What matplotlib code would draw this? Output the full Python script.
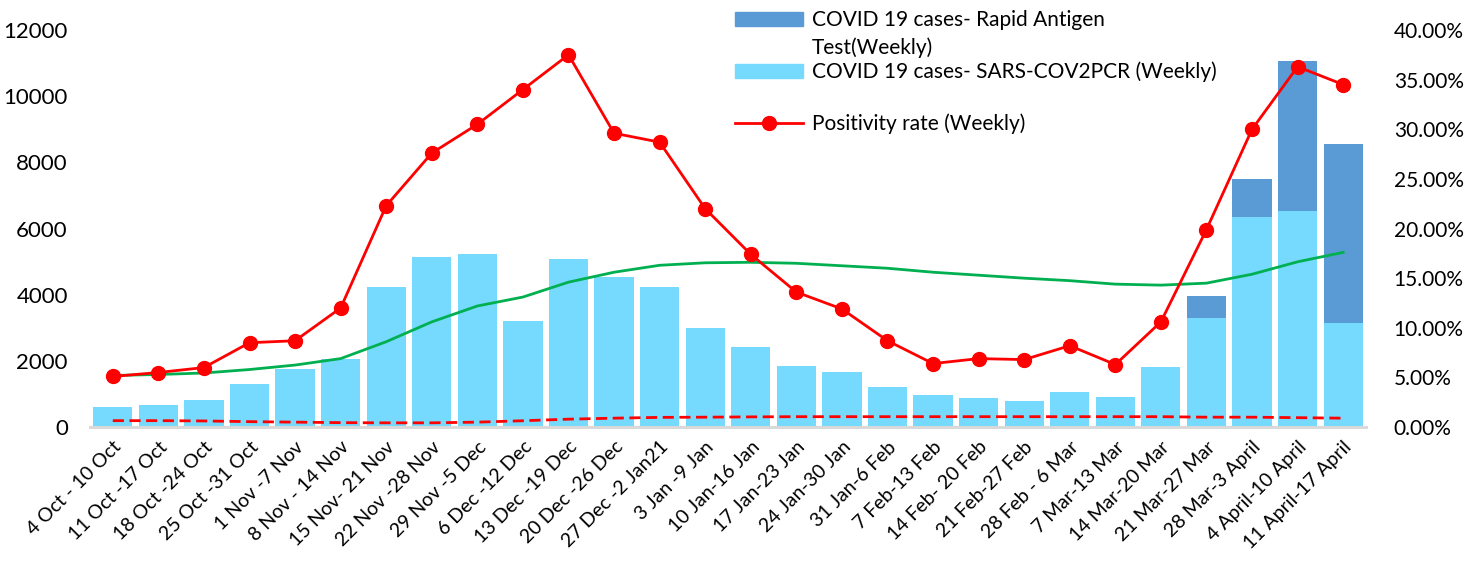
import matplotlib.pyplot as plt
from matplotlib.lines import Line2D
from matplotlib.patches import Patch
from matplotlib.ticker import FuncFormatter

weeks = ["4 Oct - 10 Oct", "11 Oct -17 Oct", "18 Oct -24 Oct", "25 Oct -31 Oct",
         "1 Nov -7 Nov", "8 Nov - 14 Nov", "15 Nov- 21 Nov", "22 Nov -28 Nov",
         "29 Nov -5 Dec", "6 Dec -12 Dec", "13 Dec -19 Dec", "20 Dec -26 Dec",
         "27 Dec -2 Jan21", "3 Jan -9 Jan", "10 Jan-16 Jan", "17 Jan-23 Jan",
         "24 Jan-30 Jan", "31 Jan-6 Feb", "7 Feb-13 Feb", "14 Feb- 20 Feb",
         "21 Feb-27 Feb", "28 Feb - 6 Mar", "7 Mar-13 Mar", "14 Mar-20 Mar",
         "21 Mar-27 Mar", "28 Mar-3 April", "4 April-10 April", "11 April-17 April"]

pcr_cases = [620, 665, 815, 1290, 1755, 2055, 4230, 5140, 5220, 3215, 5080, 4535,
             4240, 2985, 2430, 1845, 1675, 1220, 970, 890, 790, 1050, 920, 1825,
             3285, 6340, 6540, 3155]
antigen_cases = [0, 0, 0, 0, 0, 0, 0, 0, 0, 0, 0, 0, 0, 0, 0, 0, 0, 0, 0, 0, 0, 0,
                 0, 0, 675, 1160, 4535, 5400]

positivity = [5.1, 5.5, 6.0, 8.5, 8.7, 12.0, 22.3, 27.6, 30.5, 34.0, 37.5, 29.6,
              28.7, 22.0, 17.4, 13.6, 11.9, 8.7, 6.4, 6.9, 6.8, 8.2, 6.3, 10.6,
              19.9, 30.0, 36.3, 34.5]
trend = [5.2, 5.3, 5.45, 5.8, 6.25, 6.9, 8.6, 10.6, 12.2, 13.1, 14.6, 15.6,
         16.3, 16.55, 16.6, 16.5, 16.25, 16.0, 15.6, 15.3, 15.0, 14.75, 14.4, 14.3,
         14.5, 15.4, 16.65, 17.6]
baseline = [0.65, 0.65, 0.62, 0.55, 0.5, 0.45, 0.43, 0.43, 0.5, 0.64, 0.8, 0.9,
            0.98, 1.0, 1.03, 1.05, 1.05, 1.05, 1.05, 1.05, 1.05, 1.05, 1.05, 1.05,
            1.0, 1.0, 0.95, 0.9]

light_blue = "#76D9FE"
dark_blue = "#5B9BD5"
red = "#FF0000"
green = "#00B050"

plt.rcParams['font.family'] = ['Lato', 'DejaVu Sans']

W, H = 1478, 571
fig = plt.figure(figsize=(W / 100, H / 100), dpi=100)
ax = fig.add_axes([0.0609, 0.252, 0.8633, 0.6955])
ax2 = ax.twinx()

x = list(range(len(weeks)))
ax.bar(x, pcr_cases, width=0.86, color=light_blue, zorder=2)
ax.bar(x, antigen_cases, width=0.86, bottom=pcr_cases, color=dark_blue, zorder=2)

ax2.plot(x, baseline, color=red, lw=2, linestyle=(0, (4, 2)), zorder=3)
ax2.plot(x, trend, color=green, lw=2, zorder=3)
ax2.plot(x, positivity, color=red, lw=2, marker='o', markersize=10, zorder=4)

ax.set_xlim(-0.5, len(weeks) - 0.5)
ax.set_ylim(0, 12000)
ax.set_yticks(range(0, 12001, 2000))
ax2.set_ylim(0, 40)
ax2.set_yticks(range(0, 41, 5))
ax2.yaxis.set_major_formatter(FuncFormatter(lambda v, p: f"{v:.2f}%"))

ax.set_xticks(x)
ax.set_xticklabels(weeks, rotation=45, ha='right', rotation_mode='anchor', fontsize=14)
ax.tick_params(axis='x', length=0, pad=8)
ax.tick_params(axis='y', length=0, pad=16, labelsize=16)
ax2.tick_params(axis='y', length=0, pad=20, labelsize=15)

for a in (ax, ax2):
    for side in ('top', 'left', 'right'):
        a.spines[side].set_visible(False)
    a.spines['bottom'].set_color('#D9D9D9')
    a.spines['bottom'].set_linewidth(2)

# legend, one entry at a time to match the uneven spacing
fs = 15
entries = [
    (Patch(color=dark_blue), "COVID 19 cases- Rapid Antigen", 20, 0.67),
    (Patch(color=light_blue), "COVID 19 cases- SARS-COV2PCR (Weekly)", 72, 0.67),
    (Line2D([0], [0], color=red, lw=2, marker='o', markersize=10),
     "Positivity rate (Weekly)", 124, 0.7),
]
for handle, label, ypix, hh in entries:
    fig.legend([handle], [label], loc='center left',
               bbox_to_anchor=(735 / W, 1 - ypix / H), frameon=False,
               fontsize=fs, handlelength=3.27, handleheight=hh,
               handletextpad=0.43, borderpad=0, borderaxespad=0)
fig.text(812 / W, 1 - 48 / H, "Test(Weekly)", fontsize=fs, va='center', ha='left')

fig.savefig("out.png", dpi=100)
